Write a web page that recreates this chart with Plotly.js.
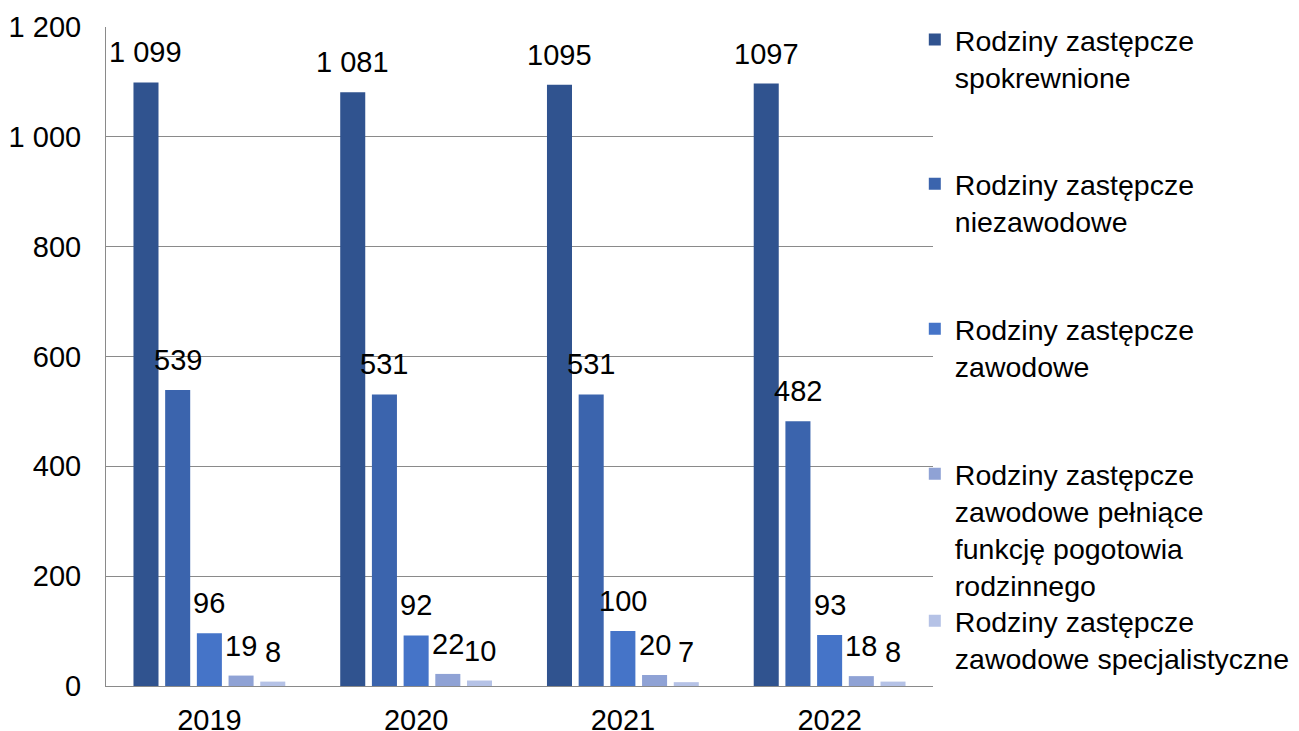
<!DOCTYPE html>
<html>
<head>
<meta charset="utf-8">
<script src="https://cdn.plot.ly/plotly-3.0.1.min.js"></script>
<style>html,body{margin:0;padding:0;background:#fff;}#chart{width:1299px;height:731px;}</style>
</head>
<body>
<div id="chart"></div>
<script>
const years = ['2019', '2020', '2021', '2022'];

const seriesNames = [
  'Rodziny zastępcze<br>spokrewnione',
  'Rodziny zastępcze<br>niezawodowe',
  'Rodziny zastępcze<br>zawodowe',
  'Rodziny zastępcze<br>zawodowe pełniące<br>funkcję pogotowia<br>rodzinnego',
  'Rodziny zastępcze<br>zawodowe specjalistyczne'
];

const spokrewnione = [1099, 1081, 1095, 1097];
const niezawodowe = [539, 531, 531, 482];
const zawodowe = [96, 92, 100, 93];
const pogotowie = [19, 22, 20, 18];
const specjalistyczne = [8, 10, 7, 8];

const spokrewnioneLabels = ['1 099', '1 081', '1095', '1097'];
const niezawodoweLabels = ['539', '531', '531', '482'];
const zawodoweLabels = ['96', '92', '100', '93'];
const pogotowieLabels = ['19', '22', '20', '18'];
const specjalistyczneLabels = ['8', '10', '7', '8'];

const yTickVals = [0, 200, 400, 600, 800, 1000, 1200];
const yTickText = ['0', '200', '400', '600', '800', '1 000', '1 200'];

const colors = ['#30538F', '#3B64AD', '#4574C8', '#8FA2D5', '#B5C2E6'];

const allValues = [spokrewnione, niezawodowe, zawodowe, pogotowie, specjalistyczne];
const allLabels = [spokrewnioneLabels, niezawodoweLabels, zawodoweLabels, pogotowieLabels, specjalistyczneLabels];

const FONT = 'Liberation Sans, Arial, sans-serif';
const FS = 29;
const bargap = 0.2335;
const bargroupgap = 0.21;
const nSeries = allValues.length;
const slot = (1 - bargap) / nSeries;

const legendY = [1.019, 0.800, 0.580, 0.360, 0.137];

const traces = allValues.map((vals, k) => ({
  type: 'bar',
  name: seriesNames[k],
  x: years,
  y: vals,
  marker: {color: colors[k], line: {width: 0}},
  hoverinfo: 'skip',
  legend: k === 0 ? 'legend' : 'legend' + (k + 1)
}));

const annotations = [];
allValues.forEach((vals, k) => {
  vals.forEach((v, i) => {
    annotations.push({
      x: i + (k - (nSeries - 1) / 2) * slot,
      y: v,
      xref: 'x', yref: 'y',
      text: allLabels[k][i],
      showarrow: false,
      xanchor: 'center',
      yanchor: 'bottom',
      yshift: 12,
      font: {family: FONT, size: FS, color: '#000'}
    });
  });
});

const layout = {
  width: 1299,
  height: 731,
  margin: {l: 106, r: 366, t: 27, b: 45, autoexpand: false},
  paper_bgcolor: '#fff',
  plot_bgcolor: '#fff',
  barmode: 'group',
  bargap: bargap,
  bargroupgap: bargroupgap,
  font: {family: FONT, size: FS, color: '#000'},
  xaxis: {
    type: 'category',
    showgrid: false,
    showline: true,
    linecolor: '#8a8a8a',
    linewidth: 1,
    ticks: '',
    ticklabelstandoff: 8,
    tickfont: {family: FONT, size: FS, color: '#000'},
    fixedrange: true
  },
  yaxis: {
    range: [0, 1200],
    tickvals: yTickVals,
    ticktext: yTickText,
    showgrid: true,
    gridcolor: '#8a8a8a',
    gridwidth: 1,
    showline: true,
    linecolor: '#8a8a8a',
    linewidth: 1,
    zeroline: false,
    ticks: '',
    ticklabelstandoff: 18,
    tickfont: {family: FONT, size: FS, color: '#000'},
    fixedrange: true
  },
  annotations: annotations,
  showlegend: true
};

legendY.forEach((ly, k) => {
  const key = k === 0 ? 'legend' : 'legend' + (k + 1);
  layout[key] = {
    x: 0.978,
    y: ly,
    xanchor: 'left',
    yanchor: 'top',
    bgcolor: 'rgba(0,0,0,0)',
    borderwidth: 0,
    valign: 'top',
    font: {family: FONT, size: 28.5, color: '#000'}
  };
});

Plotly.newPlot('chart', traces, layout, {displayModeBar: false, staticPlot: true});
</script>
</body>
</html>
